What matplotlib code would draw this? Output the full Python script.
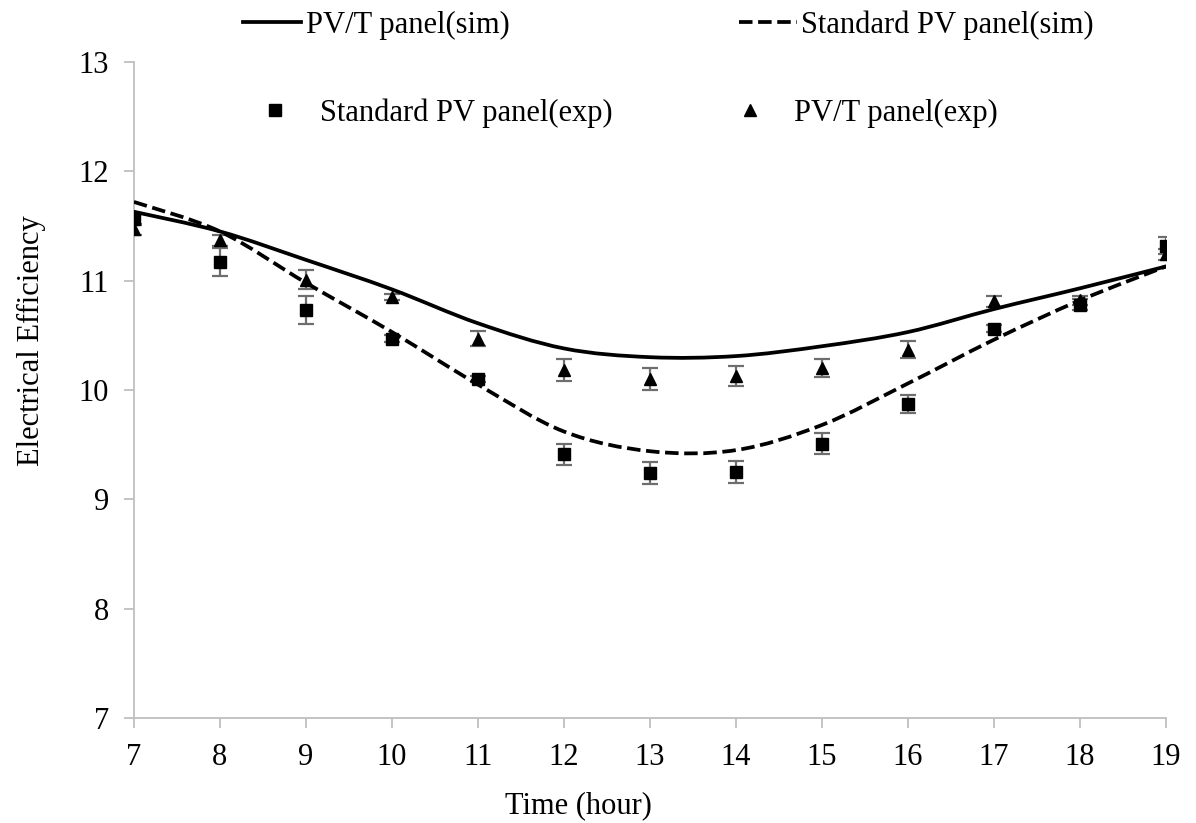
import numpy as np
import matplotlib
matplotlib.use('Agg')
import matplotlib.pyplot as plt
from matplotlib.path import Path
from matplotlib.patches import PathPatch
from matplotlib.lines import Line2D

plt.rcParams['font.family'] = ['Liberation Serif', 'DejaVu Serif']
plt.rcParams['font.size'] = 22

hours = [7, 8, 9, 10, 11, 12, 13, 14, 15, 16, 17, 18, 19]

# simulated efficiency (%)
pvt_sim = [11.63, 11.45, 11.19, 10.92, 10.61, 10.38, 10.30, 10.31, 10.40, 10.53, 10.74, 10.93, 11.13]
pv_sim = [11.72, 11.45, 10.98, 10.53, 10.05, 9.62, 9.44, 9.45, 9.68, 10.06, 10.46, 10.82, 11.13]

# measured efficiency (%) and error bars
pv_exp = [11.56, 11.17, 10.73, 10.47, 10.10, 9.41, 9.24, 9.25, 9.51, 9.87, 10.56, 10.78, 11.32]
pv_err = [0.05, 0.13, 0.13, 0.03, 0.03, 0.10, 0.10, 0.10, 0.10, 0.08, 0.03, 0.05, 0.08]
pvt_exp = [11.47, 11.37, 11.01, 10.85, 10.47, 10.18, 10.10, 10.13, 10.20, 10.37, 10.81, 10.82, 11.24]
pvt_err = [0.05, 0.05, 0.09, 0.03, 0.07, 0.10, 0.10, 0.09, 0.08, 0.08, 0.05, 0.04, 0.05]

GRAY = '#bfbfbf'
ERR = '#6e6e6e'
DASH = (0, (3.6, 1.5))


def smooth_path(x, y):
    # catmull-rom style bezier through the points (like a spreadsheet "smoothed line")
    p = np.column_stack([x, y]).astype(float)
    ext = np.vstack([p[0], p, p[-1]])
    verts = [p[0]]
    codes = [Path.MOVETO]
    for i in range(1, len(ext) - 2):
        c1 = ext[i] + (ext[i + 1] - ext[i - 1]) / 6
        c2 = ext[i + 1] - (ext[i + 2] - ext[i]) / 6
        verts += [c1, c2, ext[i + 1]]
        codes += [Path.CURVE4] * 3
    return Path(verts, codes)


fig = plt.figure(figsize=(11.96, 8.23), dpi=100)
ax = fig.add_axes([0.1120, 0.1276, 0.8629, 0.7971])

ax.errorbar(hours, pv_exp, yerr=pv_err, fmt='s', color='black', ms=8.5,
            ecolor=ERR, elinewidth=1.6, capsize=6, capthick=1.6, zorder=3)
ax.errorbar(hours, pvt_exp, yerr=pvt_err, fmt='^', color='black', ms=9,
            ecolor=ERR, elinewidth=1.6, capsize=6, capthick=1.6, zorder=3)

ax.add_patch(PathPatch(smooth_path(hours, pvt_sim), fill=False, ec='black',
                       lw=2.7, zorder=4, capstyle='round'))
ax.add_patch(PathPatch(smooth_path(hours, pv_sim), fill=False, ec='black',
                       lw=2.7, ls=DASH, zorder=4))

ax.set_xlim(7, 19)
ax.set_ylim(7, 13)
ax.set_xticks(range(7, 20))
ax.set_yticks(range(7, 14))

for s in ['top', 'right']:
    ax.spines[s].set_visible(False)
for s in ['left', 'bottom']:
    ax.spines[s].set_color(GRAY)
    ax.spines[s].set_linewidth(1.3)
ax.tick_params(axis='both', direction='out', length=7, width=1.3, color=GRAY,
               pad=11, labelsize=22)

ax.set_xlabel('Time (hour)', fontsize=22, va='center')
ax.xaxis.set_label_coords(0.431, -0.133)
ax.set_ylabel('Electrical Efficiency', fontsize=22, va='center')
ax.yaxis.set_label_coords(-0.099, 0.575)

# legend: simulated curves on the top row, measured points on the second row
fig.legend(
    [Line2D([], [], color='black', lw=2.7),
     Line2D([], [], color='black', lw=2.7, ls=DASH)],
    ['PV/T panel(sim)', 'Standard PV panel(sim)'],
    ncol=2, loc='upper left', bbox_to_anchor=(243 / 1196, 1 - 10 / 823),
    frameon=False, borderpad=0, borderaxespad=0, handlelength=1.9,
    handletextpad=0.15, columnspacing=7.5, fontsize=22)
fig.legend(
    [Line2D([], [], color='black', marker='s', ls='none', ms=8),
     Line2D([], [], color='black', marker='^', ls='none', ms=8)],
    ['Standard PV panel(exp)', 'PV/T panel(exp)'],
    ncol=2, loc='upper left', bbox_to_anchor=(260 / 1196, 1 - 98 / 823),
    frameon=False, borderpad=0, borderaxespad=0, handlelength=1.0,
    handletextpad=0.95, columnspacing=4.0, fontsize=22)

fig.savefig('out.png', dpi=100)
